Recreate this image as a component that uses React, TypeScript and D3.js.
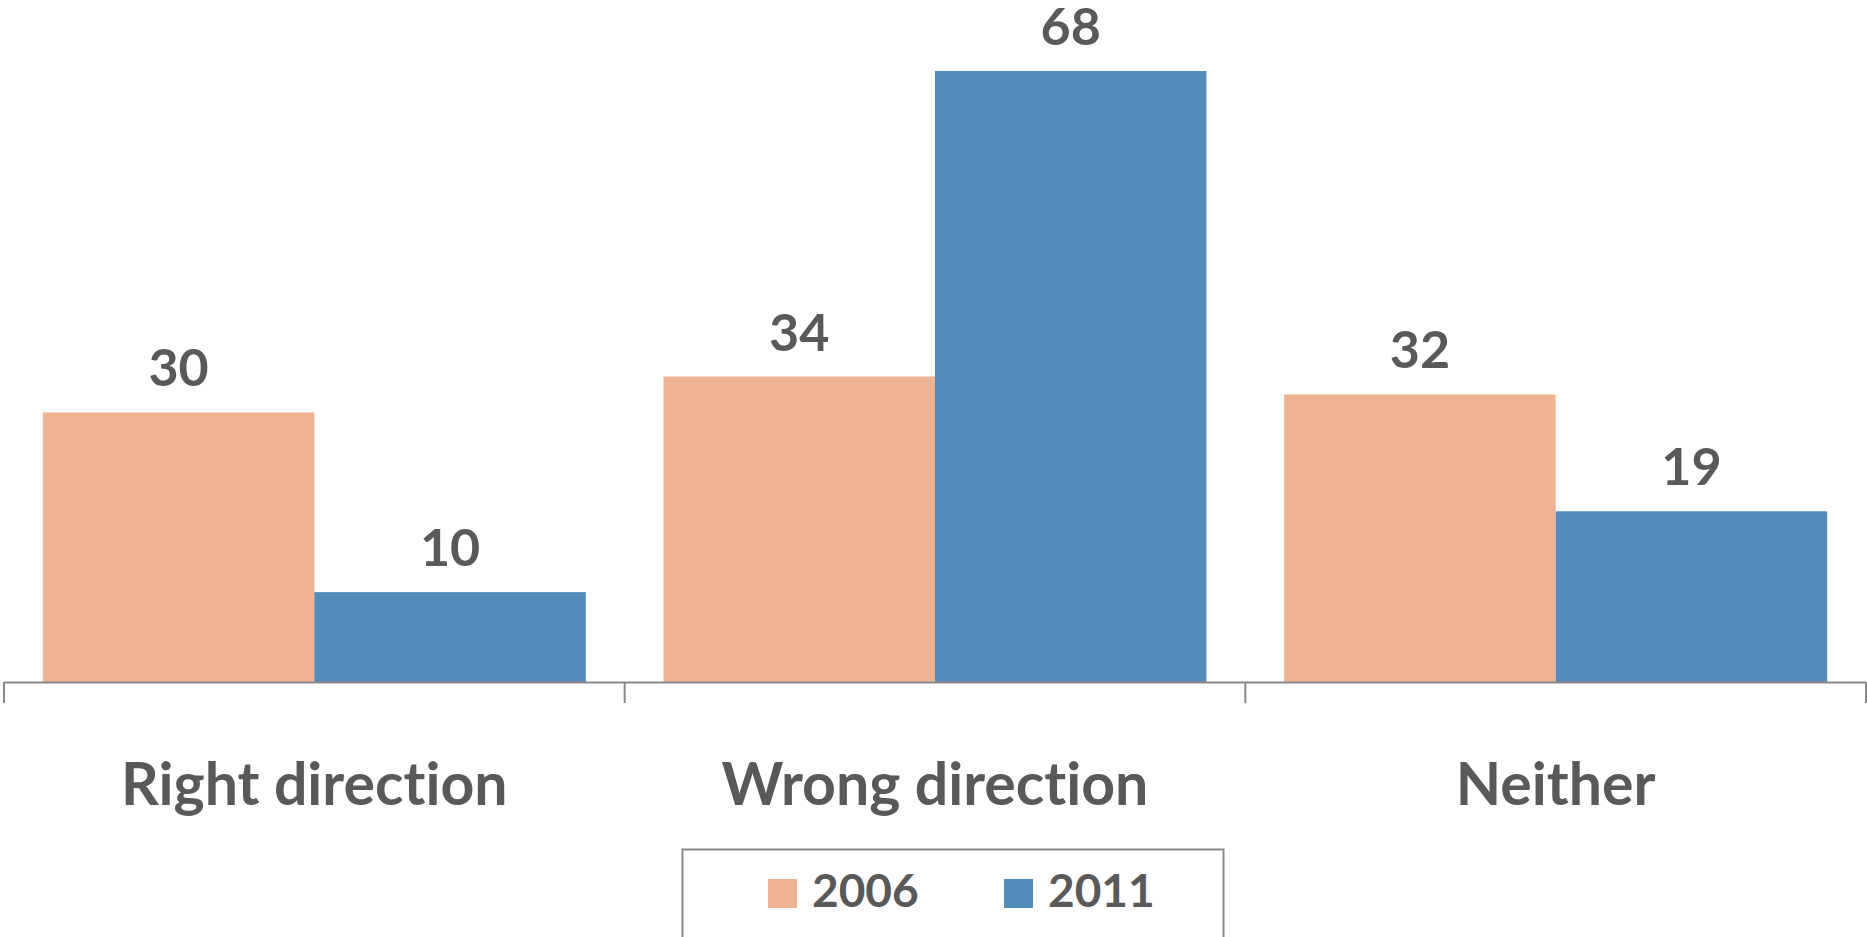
import React from "react";
import * as d3 from "d3";

const categories = ["Right direction", "Wrong direction", "Neither"];
const seriesNames = ["2006", "2011"];
const values2006 = [30, 34, 32];
const values2011 = [10, 68, 19];
const colors = ["#EDB393", "#558BB8"];

const W = 1867;
const H = 937;
const FONT = "Lato, 'Open Sans', sans-serif";
const TEXT = "#595959";
const AXIS = "#898989";
const noLig = { fontVariantLigatures: "none" as const, fontFeatureSettings: "'liga' 0, 'clig' 0" };

export default function App() {
  const x0 = d3.scaleBand<string>().domain(categories).range([4, 1866]).paddingInner(0).paddingOuter(0);
  const x1 = d3
    .scaleBand<string>()
    .domain(seriesNames)
    .range([0, x0.bandwidth()])
    .paddingOuter(0.143)
    .paddingInner(0);
  const y = d3.scaleLinear().domain([0, 68]).range([682, 71]);
  const series = [values2006, values2011];

  const tickXs = [...categories.map((c) => x0(c)!), x0.range()[1]];

  return (
    <svg
      width={W}
      height={H}
      style={{ position: "absolute", left: 0, top: 0, background: "#fff" }}
      fontFamily={FONT}
    >
      <rect x={0} y={0} width={W} height={H} fill="#fff" />
      {categories.map((c, ci) =>
        series.map((vals, si) => {
          const bx = x0(c)! + x1(seriesNames[si])!;
          const bw = x1.bandwidth();
          const top = y(vals[ci]);
          return (
            <g key={c + si}>
              <rect x={bx} y={top} width={bw} height={y(0) - top} fill={colors[si]} />
              <text
                x={bx + bw / 2}
                y={top - 26}
                textAnchor="middle"
                fontSize={52}
                fontWeight={700}
                fill={TEXT}
                style={noLig}
              >
                {vals[ci]}
              </text>
            </g>
          );
        })
      )}
      <line x1={x0.range()[0]} x2={x0.range()[1]} y1={y(0) + 0.5} y2={y(0) + 0.5} stroke={AXIS} strokeWidth={2} />
      {tickXs.map((tx, i) => (
        <line key={i} x1={tx} x2={tx} y1={y(0)} y2={703} stroke={AXIS} strokeWidth={2} />
      ))}
      {categories.map((c) => (
        <text
          key={c}
          x={x0(c)! + x0.bandwidth() / 2}
          y={805}
          textAnchor="middle"
          fontSize={59}
          fontWeight={700}
          fill={TEXT}
          style={noLig}
        >
          {c}
        </text>
      ))}
      <rect x={682.5} y={849.5} width={541} height={100} fill="none" stroke={AXIS} strokeWidth={2} />
      {seriesNames.map((s, i) => {
        const sx = [768, 1004][i];
        return (
          <g key={s}>
            <rect x={sx} y={879} width={29} height={29} fill={colors[i]} />
            <text x={sx + 44} y={907} fontSize={46} fontWeight={700} fill={TEXT} style={noLig}>
              {s}
            </text>
          </g>
        );
      })}
    </svg>
  );
}
